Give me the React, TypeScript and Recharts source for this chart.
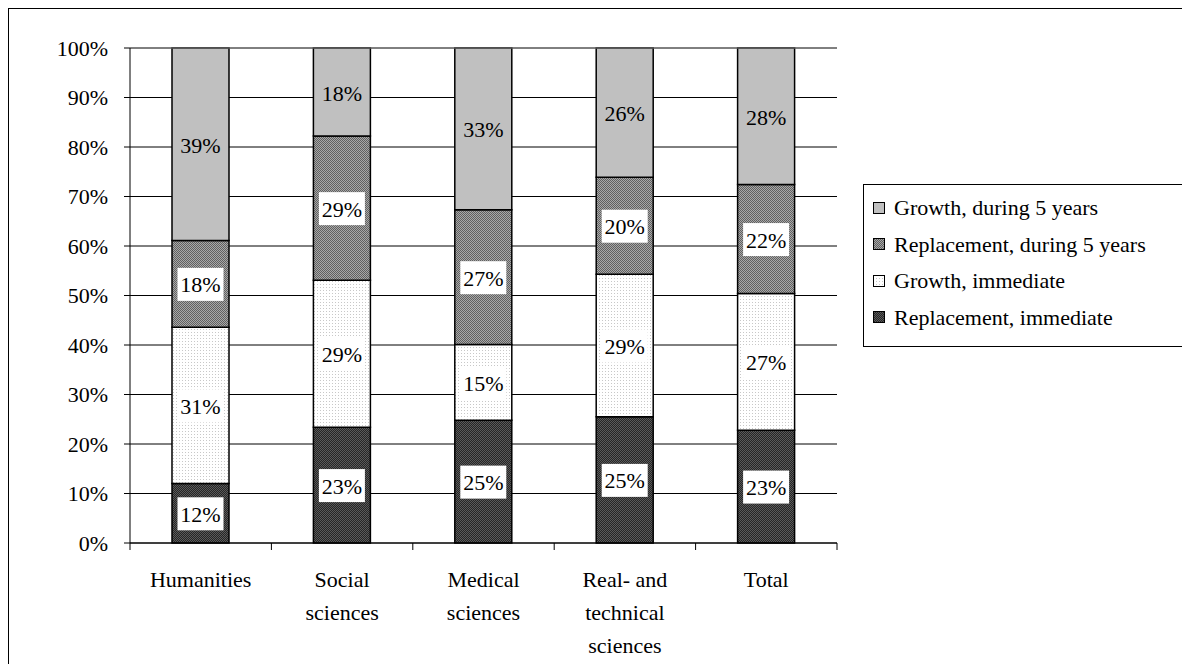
import { BarChart, Bar, XAxis, YAxis, CartesianGrid, LabelList, ReferenceLine } from "recharts";

const categories = ["Humanities", "Social\nsciences", "Medical\nsciences", "Real- and\ntechnical\nsciences", "Total"];
const replacementImmediate = [12.0, 23.4, 24.8, 25.5, 22.8];
const growthImmediate = [31.6, 29.7, 15.3, 28.8, 27.6];
const replacement5y = [17.5, 29.1, 27.2, 19.6, 22.0];
const growth5y = [38.9, 17.8, 32.7, 26.1, 27.6];

const riLabels = ["12%", "23%", "25%", "25%", "23%"];
const giLabels = ["31%", "29%", "15%", "29%", "27%"];
const r5Labels = ["18%", "29%", "27%", "20%", "22%"];
const g5Labels = ["39%", "18%", "33%", "26%", "28%"];

const yTicks = [0, 10, 20, 30, 40, 50, 60, 70, 80, 90, 100];

const legendItems = [
  { name: "Growth, during 5 years", fill: "#c0c0c0" },
  { name: "Replacement, during 5 years", fill: "url(#patR5)" },
  { name: "Growth, immediate", fill: "url(#patGI)" },
  { name: "Replacement, immediate", fill: "url(#patRI)" },
];

const data = categories.map((name, i) => ({
  name,
  ri: replacementImmediate[i],
  gi: growthImmediate[i],
  r5: replacement5y[i],
  g5: growth5y[i],
  riLabel: riLabels[i],
  giLabel: giLabels[i],
  r5Label: r5Labels[i],
  g5Label: g5Labels[i],
}));

const FONT = "Liberation Serif, Tinos, DejaVu Serif, Noto Serif, Times New Roman, Times, serif";
const W = 1182;
const H = 656;
const MARGIN = { top: 40, right: 353, bottom: 11, left: 0 };
const Y_W = 122;
const BAND = (W - MARGIN.left - MARGIN.right - Y_W) / categories.length;

const boxLabel = (withBox: boolean) => (props: any) => {
  const { x, y, width, height, value } = props;
  const cx = Number(x) + Number(width) / 2;
  const cy = Number(y) + Number(height) / 2;
  return (
    <g>
      {withBox && <rect x={cx - 23} y={cy - 16} width={46} height={33} fill="#fff" />}
      <text x={cx} y={cy + 1} textAnchor="middle" dominantBaseline="central" style={{ fontFamily: FONT }} fontSize={22} fill="#000">
        {value}
      </text>
    </g>
  );
};

const CategoryTick = (props: any) => {
  const { x, y, payload, index } = props;
  const lines = String(payload.value).split("\n");
  return (
    <g>
      <line x1={x - BAND / 2} x2={x - BAND / 2} y1={y} y2={y + 7} stroke="#000" />
      {index === categories.length - 1 && <line x1={x + BAND / 2} x2={x + BAND / 2} y1={y} y2={y + 7} stroke="#000" />}
      <text x={x} y={y + 44} textAnchor="middle" style={{ fontFamily: FONT }} fontSize={22} fill="#000">
        {lines.map((l, i) => (
          <tspan key={i} x={x} dy={i === 0 ? 0 : 33}>
            {l}
          </tspan>
        ))}
      </text>
    </g>
  );
};

export default function App() {
  return (
    <div style={{ position: "relative", width: W, height: H, overflow: "hidden", fontFamily: FONT }}>
      <div style={{ position: "absolute", left: 0, top: 0, width: W + 10, height: H + 10, borderLeft: "1px solid #000", borderTop: "1px solid #000" }} />
      <BarChart width={W} height={H} data={data} margin={MARGIN} barSize={57}>
        <defs>
          <pattern id="patR5" width={2} height={2} patternUnits="userSpaceOnUse">
            <rect width={2} height={2} fill="#a8a8a8" />
            <rect width={1} height={1} fill="#606060" />
            <rect x={1} y={1} width={1} height={1} fill="#606060" />
          </pattern>
          <pattern id="patRI" width={2} height={2} patternUnits="userSpaceOnUse">
            <rect width={2} height={2} fill="#262626" />
            <rect width={1} height={1} fill="#5a5a5a" />
            <rect x={1} y={1} width={1} height={1} fill="#5a5a5a" />
          </pattern>
          <pattern id="patGI" width={3} height={3} patternUnits="userSpaceOnUse">
            <rect width={3} height={3} fill="#ffffff" />
            <rect width={1} height={1} fill="#c8c8c8" />
          </pattern>
        </defs>
        <CartesianGrid horizontal vertical={false} stroke="#000" />
        <XAxis
          dataKey="name"
          interval={0}
          height={110}
          tickLine={false}
          tickSize={0}
          tickMargin={0}
          axisLine={{ stroke: "#000" }}
          tick={<CategoryTick />}
        />
        <YAxis
          width={Y_W}
          domain={[0, 100]}
          ticks={yTicks}
          interval={0}
          tickFormatter={(v) => `${v}%`}
          tickSize={6}
          tickMargin={16}
          tickLine={{ stroke: "#000" }}
          axisLine={{ stroke: "#000" }}
          tick={{ style: { fontFamily: FONT }, fontSize: 22, fill: "#000" }}
        />
        <YAxis yAxisId="r" orientation="right" width={0} domain={[0, 100]} tick={false} tickLine={false} axisLine={{ stroke: "#808080" }} />
        <ReferenceLine y={100} stroke="#808080" />
        <Bar dataKey="ri" stackId="a" fill="url(#patRI)" stroke="#000" strokeWidth={1.5} isAnimationActive={false}>
          <LabelList dataKey="riLabel" content={boxLabel(true)} />
        </Bar>
        <Bar dataKey="gi" stackId="a" fill="url(#patGI)" stroke="#000" strokeWidth={1.5} isAnimationActive={false}>
          <LabelList dataKey="giLabel" content={boxLabel(true)} />
        </Bar>
        <Bar dataKey="r5" stackId="a" fill="url(#patR5)" stroke="#000" strokeWidth={1.5} isAnimationActive={false}>
          <LabelList dataKey="r5Label" content={boxLabel(true)} />
        </Bar>
        <Bar dataKey="g5" stackId="a" fill="#c0c0c0" stroke="#000" strokeWidth={1.5} isAnimationActive={false}>
          <LabelList dataKey="g5Label" content={boxLabel(false)} />
        </Bar>
      </BarChart>
      <div
        style={{
          position: "absolute",
          left: 855,
          top: 176,
          width: 360,
          height: 163,
          border: "1px solid #000",
          background: "#fff",
          paddingTop: 5,
          boxSizing: "border-box",
        }}
      >
        {legendItems.map((it) => (
          <div key={it.name} style={{ display: "flex", alignItems: "center", height: 36.5, fontSize: 22, color: "#000" }}>
            <svg width={13} height={13} style={{ marginLeft: 9, marginRight: 8 }}>
              <rect x={0.5} y={0.5} width={11} height={11} fill={it.fill} stroke="#000" />
            </svg>
            <span style={{ whiteSpace: "nowrap" }}>{it.name}</span>
          </div>
        ))}
      </div>
    </div>
  );
}
